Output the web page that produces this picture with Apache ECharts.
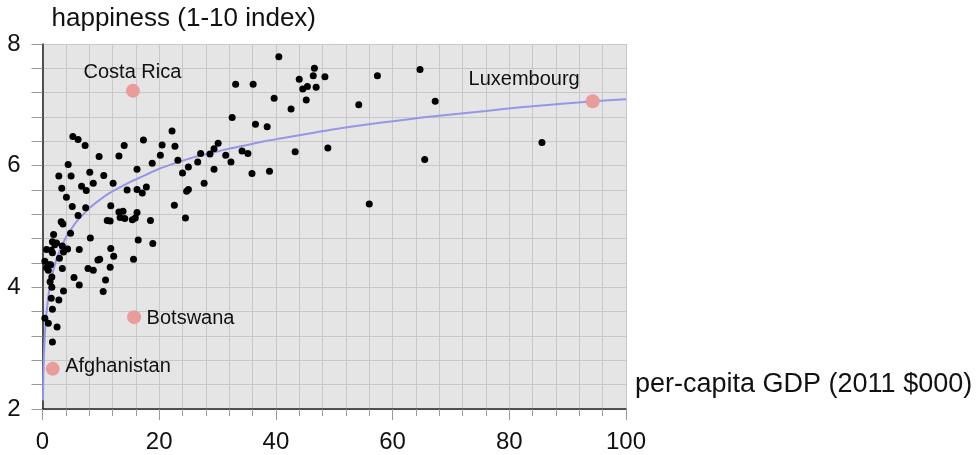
<!DOCTYPE html>
<html><head><meta charset="utf-8">
<script src="https://cdn.jsdelivr.net/npm/echarts@6/dist/echarts.min.js"></script>
<style>html,body{margin:0;padding:0;background:#fff}#c{width:980px;height:455px}</style>
</head><body><div id="c"></div>
<script>
// ---- data ----
const gdp = [40.5,33.1,36.1,39.7,42.6,44.0,44.6,45.4,45.2,46.6,46.4,46.9,48.4,32.5,36.5,38.5,48.9,43.3,22.2,17.3,
  14.0,20.5,22.7,30.1,29.4,28.7,27.1,31.4,34.2,35.2,32.3,26.6,23.2,20.2,18.8,25.0,24.0,29.4,27.7,35.9,
  38.9,22.6,24.5,24.7,25.0,16.2,13.1,9.7,5.2,6.1,7.3,4.4,2.8,4.9,8.1,8.7,10.5,12.1,6.7,7.5,
  3.3,4.1,5.1,7.4,6.1,14.5,16.2,17.8,17.1,11.7,13.1,13.8,13.3,14.1,15.4,15.9,16.2,18.5,11.1,11.6,
  3.2,3.5,4.8,1.9,8.2,1.7,2.4,2.1,16.4,18.9,3.4,3.6,4.3,0.7,1.5,1.7,6.3,11.7,12.2,2.9,
  0.4,1.4,0.7,1.0,1.1,3.4,9.5,9.8,15.6,7.8,8.7,11.6,1.6,1.3,1.6,5.4,6.3,3.6,10.8,10.4,
  1.5,2.8,1.7,0.4,1.0,2.5,1.7,57.4,64.7,54.2,67.3,65.5,85.6,56.0];
const happiness = [7.79,7.34,7.34,7.11,6.93,7.42,7.26,7.30,7.08,7.60,7.48,7.29,7.46,6.79,6.68,6.64,6.29,6.23,6.57,6.42,
  6.33,6.34,6.32,6.37,6.28,6.19,6.20,6.17,6.24,6.20,6.06,6.06,6.09,6.17,6.04,5.98,5.88,5.94,5.71,5.87,
  5.91,5.35,5.14,5.58,5.61,5.94,6.16,6.15,6.48,6.43,6.33,6.02,5.83,5.83,5.89,5.71,5.84,5.71,5.66,5.59,
  5.63,5.48,5.33,5.31,5.18,5.60,5.61,5.65,5.55,5.34,5.24,5.25,5.15,5.13,5.11,5.14,5.23,5.10,5.10,5.09,
  5.08,5.04,4.89,4.87,4.81,4.75,4.73,4.70,4.78,4.72,4.68,4.58,4.63,4.62,4.61,4.57,4.62,4.64,4.51,4.48,
  4.43,4.37,4.32,4.28,4.37,4.31,4.45,4.46,4.46,4.31,4.28,4.33,4.17,4.09,4.00,4.16,4.04,3.94,4.12,3.93,
  3.82,3.79,3.64,3.49,3.41,3.35,3.10,7.48,7.58,7.00,7.06,6.10,6.38,5.37];
const namedCountries = ['Costa Rica','Botswana','Afghanistan','Luxembourg'];
const namedGdp = [15.5,15.7,1.75,94.3];
const namedHappiness = [7.23,3.51,2.66,7.06];
const fitGdp = [0.08,0.15,0.25,0.4,0.6,0.8,1.0,1.4,2.0,2.6,3.2,4.0,5.0,6.0,7.0,8.0,9.3,11,13,15,17.5,20,23,26,29,32,35,38,41,44,47,50,55,60,65,70,76,82,88,94.5,100];
const fitHappiness = [2.14,2.55,2.9,3.22,3.5,3.68,3.85,4.1,4.33,4.52,4.65,4.82,4.97,5.1,5.2,5.3,5.4,5.52,5.63,5.73,5.84,5.95,6.05,6.14,6.21,6.28,6.34,6.40,6.45,6.50,6.55,6.60,6.67,6.73,6.79,6.84,6.90,6.96,7.01,7.06,7.09];
const xTickLabels = [0,20,40,60,80,100];
const yTickLabels = [2,4,6,8];
const xName = 'per-capita GDP (2011 $000)';
const yName = 'happiness (1-10 index)';

// ---- presentation ----
const FONT = "'Liberation Sans', Arial, Helvetica, sans-serif";
const labelPlace = {
  'Costa Rica': {position: [6.5, -11], align: 'center'},
  'Botswana': {position: [19.5, 8], align: 'left'},
  'Afghanistan': {position: [19.5, 5], align: 'left'},
  'Luxembourg': {position: [-6, -15], align: 'right'}
};
const gridCol = '#c8c8c8';
const chart = echarts.init(document.getElementById('c'), null, {renderer: 'canvas'});
const pts = gdp.map((g, i) => [g, happiness[i]]);
const fit = fitGdp.map((g, i) => [g, fitHappiness[i]]);
const named = namedCountries.map((n, i) => ({
  name: n, value: [namedGdp[i], namedHappiness[i]],
  label: {show: true, formatter: n, position: labelPlace[n].position, align: labelPlace[n].align,
    verticalAlign: 'middle', fontSize: 20, color: '#111', fontFamily: FONT}
}));
function axisBase(ticks, tickLen, minorLen) {
  return {
    type: 'value', min: ticks[0], max: ticks[ticks.length - 1], interval: ticks[1] - ticks[0],
    axisLine: {show: true, onZero: false, lineStyle: {color: '#222', width: 1.5}},
    axisTick: {show: true, length: tickLen, lineStyle: {color: '#999', width: 1}},
    minorTick: {show: true, splitNumber: 5, length: minorLen, lineStyle: {color: '#999', width: 1}},
    splitLine: {show: true, lineStyle: {color: gridCol, width: 1}},
    minorSplitLine: {show: true, lineStyle: {color: gridCol, width: 1}},
    axisLabel: {color: '#111', fontSize: 24, fontFamily: FONT}
  };
}
const xAxis = axisBase(xTickLabels, 11, 7);
xAxis.axisLabel.margin = 21;
xAxis.name = xName; xAxis.nameLocation = 'end'; xAxis.nameGap = 9;
xAxis.nameTextStyle = {fontSize: 27, color: '#111', fontFamily: FONT, align: 'left', verticalAlign: 'bottom', lineHeight: 48};
const yAxis = axisBase(yTickLabels, 11, 11);
yAxis.axisLabel.margin = 22;
yAxis.name = yName; yAxis.nameLocation = 'end'; yAxis.nameGap = 12;
yAxis.nameTextStyle = {fontSize: 26, color: '#111', fontFamily: FONT, align: 'left', verticalAlign: 'bottom', padding: [0, 0, 0, 9]};

chart.setOption({
  animation: false,
  backgroundColor: '#fff',
  grid: {left: 42.5, right: 354, top: 44, bottom: 46, show: true, backgroundColor: '#e5e5e5', borderWidth: 0},
  xAxis: xAxis,
  yAxis: yAxis,
  series: [
    {type: 'line', data: fit, smooth: 0.25, showSymbol: false, symbol: 'none',
      lineStyle: {color: '#9696e8', width: 2}, z: 2, silent: true},
    {type: 'scatter', data: pts, symbol: 'circle', symbolSize: 7, itemStyle: {color: '#000', opacity: 1}, z: 3},
    {type: 'scatter', data: named, symbol: 'circle', symbolSize: 14, itemStyle: {color: '#e99c9c', opacity: 1}, z: 4}
  ]
});
</script></body></html>
